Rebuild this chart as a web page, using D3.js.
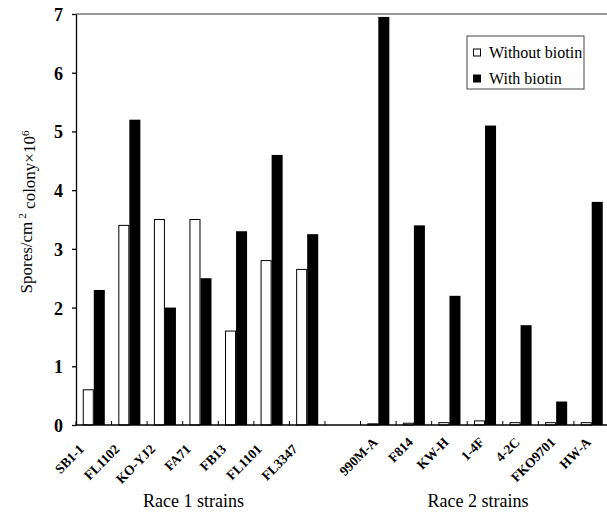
<!DOCTYPE html>
<html>
<head>
<meta charset="utf-8">
<script src="https://cdn.jsdelivr.net/npm/d3@7"></script>
<style>
body { margin: 0; background: #fff; }
svg text { font-family: "Liberation Serif", "Times New Roman", Times, serif; fill: #000; }
.tickLabel { font-size: 18px; font-weight: bold; }
.catLabel { font-size: 13.5px; font-weight: bold; }
.groupTitle { font-size: 18px; }
.legendText { font-size: 16px; }
</style>
</head>
<body>
<svg id="chartSVG" width="607" height="513" font-family="Liberation Serif, serif"></svg>
<script>
// strains, per race
const race1Strains = ['SB1-1', 'FL1102', 'KO-YJ2', 'FA71', 'FB13', 'FL1101', 'FL3347']
const race2Strains = ['990M-A', 'F814', 'KW-H', '1-4F', '4-2C', 'FKO9701', 'HW-A']
const groupTitles = ['Race 1 strains', 'Race 2 strains']

// spores/cm2 colony x10^6
const withoutBiotin = [0.6, 3.4, 3.5, 3.5, 1.6, 2.8, 2.65, 0.02, 0.03, 0.04, 0.07, 0.04, 0.04, 0.04]
const withBiotin = [2.3, 5.2, 2.0, 2.5, 3.3, 4.6, 3.25, 6.95, 3.4, 2.2, 5.1, 1.7, 0.4, 3.8]

const yTicks = [0, 1, 2, 3, 4, 5, 6, 7]
const seriesNames = ['Without biotin', 'With biotin']

// one empty slot between the two races
const allStrains = race1Strains.concat(race2Strains)
const slots = race1Strains.concat(['gap']).concat(race2Strains)

const rows = allStrains.map(function(s, i) {
	return { strain: s, race: i < race1Strains.length ? 1 : 2, values: [withoutBiotin[i], withBiotin[i]] }
})

const plotLeft = 76, plotRight = 609.5, plotTop = 14, plotBottom = 425

const x = d3.scaleBand()
	.domain(slots)
	.range([plotLeft, plotRight])
	.paddingInner(0.38)
	.paddingOuter(0.19)

const xs = d3.scaleBand()
	.domain([0, 1])
	.range([0, x.bandwidth()])

const y = d3.scaleLinear()
	.domain([0, 7])
	.range([plotBottom, plotTop])

const svg = d3.select('#chartSVG')

// frame top line
svg.append('line')
	.attr('x1', plotLeft).attr('x2', plotRight)
	.attr('y1', plotTop).attr('y2', plotTop)
	.attr('stroke', '#333')
	.attr('stroke-width', 1)

// bars
const groups = svg.selectAll('.strain')
	.data(rows)
	.enter()
	.append('g')
	.attr('class', 'strain')
	.attr('transform', function(d) { return 'translate(' + x(d.strain) + ',0)' })

groups.selectAll('rect')
	.data(function(d) { return d.values })
	.enter()
	.append('rect')
	.attr('x', function(d, i) { return xs(i) + (i == 0 ? 0.5 : 0) })
	.attr('y', function(d) { return y(d) })
	.attr('width', function(d, i) { return xs.bandwidth() - (i == 0 ? 1 : 0) })
	.attr('height', function(d) { return y(0) - y(d) })
	.attr('fill', function(d, i) { return i == 0 ? '#fff' : '#000' })
	.attr('stroke', function(d, i) { return i == 0 ? '#000' : 'none' })
	.attr('stroke-width', 1)

// y axis
svg.append('g')
	.attr('id', 'yAxis')
	.attr('transform', 'translate(' + plotLeft + ',0)')
	.call(d3.axisLeft(y).tickValues(yTicks).tickSize(4).tickSizeOuter(0).tickPadding(9).tickFormat(d3.format('d')))

d3.select('#yAxis').attr('font-size', null).attr('font-family', null)
d3.select('#yAxis').selectAll('text')
	.attr('class', 'tickLabel')
	.attr('dy', '0.36em')
d3.select('#yAxis').selectAll('line, path').attr('stroke', '#000').attr('stroke-width', 1.3)

// x axis line and category ticks (pointing up, between slots)
svg.append('line')
	.attr('x1', plotLeft).attr('x2', plotRight)
	.attr('y1', plotBottom).attr('y2', plotBottom)
	.attr('stroke', '#000')
	.attr('stroke-width', 1.5)

const half = (x.step() - x.bandwidth()) / 2
svg.selectAll('.catTick')
	.data(slots)
	.enter()
	.append('line')
	.attr('class', 'catTick')
	.attr('x1', function(d) { return x(d) - half })
	.attr('x2', function(d) { return x(d) - half })
	.attr('y1', plotBottom)
	.attr('y2', plotBottom - 4)
	.attr('stroke', '#000')

// category labels
svg.selectAll('.catLabel')
	.data(rows)
	.enter()
	.append('text')
	.attr('class', 'catLabel')
	.attr('text-anchor', 'end')
	.attr('transform', function(d) {
		const cx = x(d.strain) + x.bandwidth() / 2 + (d.race == 1 ? -9 : 0)
		const cy = d.race == 1 ? 450 : 443
		return 'translate(' + cx + ',' + cy + ') rotate(-45)'
	})
	.text(function(d) { return d.strain })

// race titles
svg.selectAll('.groupTitle')
	.data([race1Strains, race2Strains])
	.enter()
	.append('text')
	.attr('class', 'groupTitle')
	.attr('text-anchor', 'middle')
	.attr('x', function(d) { return (x(d[0]) + x(d[d.length - 1]) + x.bandwidth()) / 2 - 7 })
	.attr('y', 507)
	.text(function(d, i) { return groupTitles[i] })

// y axis title
const yTitle = svg.append('text')
	.attr('transform', 'translate(32,' + 212 + ') rotate(-90)')
	.attr('text-anchor', 'middle')
	.style('font-size', '17px')
yTitle.append('tspan').text('Spores/cm')
yTitle.append('tspan').attr('dx', '3').attr('dy', '-0.55em').style('font-size', '11px').text('2')
yTitle.append('tspan').attr('dy', '0.55em').text(' colony×10')
yTitle.append('tspan').attr('dy', '-0.55em').style('font-size', '11px').text('6')

// legend box
svg.append('g')
	.attr('id', 'legendBox')
	.attr('transform', 'translate(467,36)')

d3.select('#legendBox')
	.append('rect')
	.attr('width', 117)
	.attr('height', 53)
	.attr('fill', '#fff')
	.attr('stroke', '#444')
	.attr('stroke-width', 1)

const items = d3.select('#legendBox').selectAll('.legendItem')
	.data(seriesNames)
	.enter()
	.append('g')
	.attr('class', 'legendItem')
	.attr('transform', function(d, i) { return 'translate(6,' + (13 + i * 26) + ')' })

items.append('rect')
	.attr('x', 0.5)
	.attr('y', 0)
	.attr('width', 7)
	.attr('height', 7)
	.attr('fill', function(d, i) { return i == 0 ? '#fff' : '#000' })
	.attr('stroke', '#000')
	.attr('stroke-width', 1)

items.append('text')
	.attr('class', 'legendText')
	.attr('x', 16)
	.attr('y', 8.5)
	.text(function(d) { return d })
</script>
</body>
</html>
